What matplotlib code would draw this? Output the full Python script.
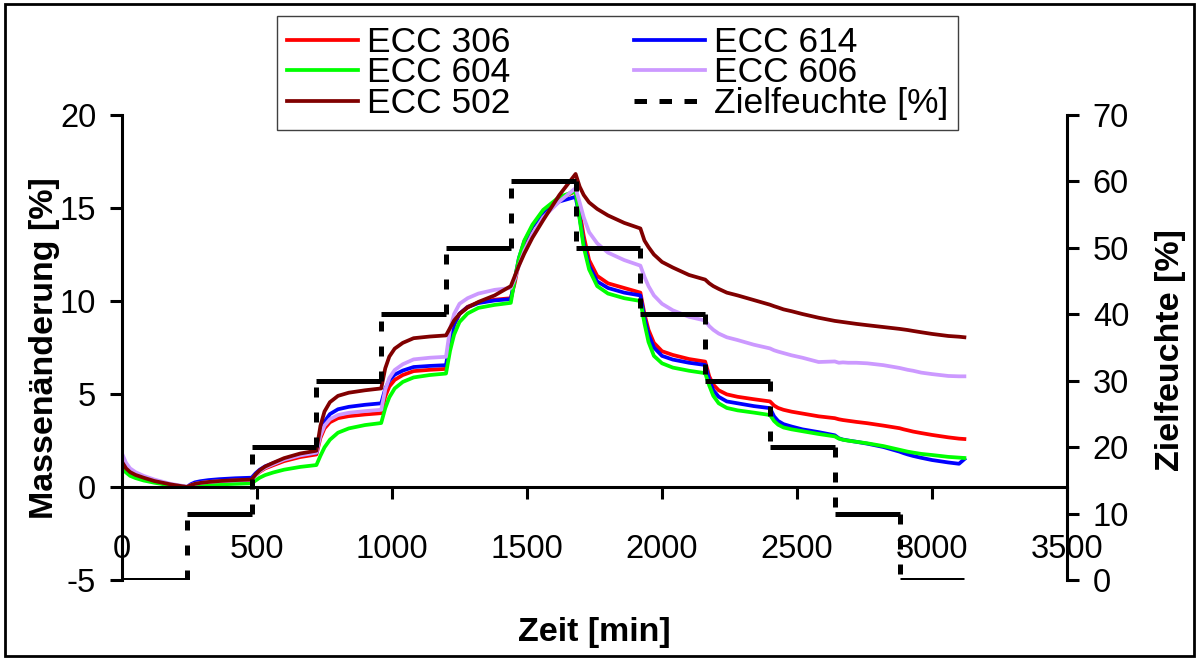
import matplotlib.pyplot as plt
from matplotlib.lines import Line2D
from matplotlib.patches import Rectangle

plt.rcParams['font.family'] = ['Liberation Sans', 'DejaVu Sans']
plt.rcParams['axes.unicode_minus'] = False

# Messzeitpunkte [min], je Feuchtestufe eine Zeile
zeit = [0, 15, 30, 50, 80, 120, 180,
        240, 255, 270, 290, 320, 360, 420,
        480, 495, 510, 530, 560, 600, 660,
        720, 735, 750, 770, 800, 840, 900,
        960, 975, 990, 1010, 1040, 1080, 1140,
        1200, 1215, 1230, 1250, 1280, 1320, 1380,
        1440, 1455, 1470, 1490, 1520, 1560, 1620,
        1680, 1695, 1710, 1730, 1760, 1800, 1860,
        1920, 1935, 1950, 1970, 2000, 2040, 2100,
        2160, 2175, 2190, 2210, 2240, 2280, 2340,
        2400, 2415, 2430, 2450, 2480, 2520, 2580,
        2640, 2655, 2670, 2690, 2720, 2760, 2820,
        2880, 2895, 2910, 2930, 2960, 3000, 3060, 3100, 3120]

# Massenänderung [%] je Probe
ecc306 = [1.3, 0.95, 0.75, 0.6, 0.45, 0.3, 0.12,
          0.0, 0.1, 0.16, 0.21, 0.26, 0.3, 0.35,
          0.38, 0.63, 0.82, 1.0, 1.17, 1.39, 1.61,
          1.75, 2.64, 3.15, 3.48, 3.7, 3.81, 3.9,
          3.97, 4.87, 5.4, 5.76, 6.02, 6.23, 6.3,
          6.35, 7.79, 8.71, 9.31, 9.69, 9.92, 10.07,
          10.15, 11.0, 12.1, 13.1, 14.0, 14.8, 15.5,
          15.9, 14.8, 13.5, 12.2, 11.35, 10.95, 10.7,
          10.45, 9.3, 8.45, 7.75, 7.3, 7.1, 6.88,
          6.74, 5.95, 5.5, 5.2, 4.98, 4.85, 4.72,
          4.6, 4.38, 4.25, 4.15, 4.05, 3.95, 3.8,
          3.7, 3.64, 3.6, 3.56, 3.5, 3.43, 3.3,
          3.16, 3.1, 3.05, 2.98, 2.9, 2.8, 2.67, 2.6, 2.58]
ecc614 = [1.2, 0.9, 0.7, 0.56, 0.42, 0.28, 0.11,
          0.0, 0.15, 0.25, 0.31, 0.37, 0.42, 0.47,
          0.5, 0.74, 0.93, 1.11, 1.28, 1.5, 1.72,
          1.85, 2.91, 3.52, 3.92, 4.18, 4.31, 4.42,
          4.5, 5.28, 5.73, 6.04, 6.26, 6.45, 6.51,
          6.55, 7.9, 8.75, 9.32, 9.67, 9.89, 10.03,
          10.1, 11.2, 12.3, 13.2, 14.0, 14.7, 15.35,
          15.6, 14.5, 13.1, 11.9, 11.05, 10.7, 10.45,
          10.3, 9.1, 8.2, 7.5, 7.05, 6.85, 6.68,
          6.56, 5.75, 5.2, 4.85, 4.6, 4.5, 4.35,
          4.24, 3.8, 3.55, 3.38, 3.25, 3.1, 2.95,
          2.78, 2.62, 2.55, 2.5, 2.43, 2.33, 2.15,
          1.9, 1.82, 1.75, 1.67, 1.57, 1.45, 1.32, 1.25, 1.5]
ecc604 = [1.0, 0.78, 0.6, 0.48, 0.35, 0.23, 0.09,
          0.0, 0.03, 0.06, 0.08, 0.11, 0.14, 0.17,
          0.2, 0.35, 0.5, 0.64, 0.78, 0.93, 1.08,
          1.18, 1.68, 2.13, 2.54, 2.92, 3.15, 3.33,
          3.44, 4.24, 4.82, 5.3, 5.65, 5.89, 6.02,
          6.1, 7.32, 8.19, 8.87, 9.33, 9.63, 9.79,
          9.9, 11.2, 12.3, 13.25, 14.1, 14.9, 15.6,
          15.9, 14.4, 12.9, 11.7, 10.8, 10.4, 10.15,
          10.0, 8.8, 7.8, 7.05, 6.65, 6.42, 6.25,
          6.12, 5.45, 4.9, 4.5, 4.25, 4.12, 4.0,
          3.87, 3.55, 3.35, 3.2, 3.1, 3.0, 2.85,
          2.72, 2.6, 2.54, 2.49, 2.43, 2.35, 2.2,
          2.0, 1.95, 1.9, 1.85, 1.78, 1.72, 1.62, 1.58, 1.56]
ecc606 = [1.8, 1.3, 1.0, 0.8, 0.6, 0.4, 0.17,
          0.02, 0.1, 0.17, 0.22, 0.27, 0.31, 0.35,
          0.38, 0.64, 0.85, 1.04, 1.23, 1.47, 1.7,
          1.85, 2.77, 3.3, 3.64, 3.87, 3.99, 4.08,
          4.15, 5.23, 5.86, 6.29, 6.6, 6.86, 6.95,
          7.0, 8.5, 9.3, 9.85, 10.15, 10.4, 10.6,
          10.7, 11.2, 11.9, 12.7, 13.6, 14.5, 15.35,
          16.07, 15.3, 14.5, 13.7, 13.1, 12.6, 12.2,
          11.9, 11.3, 10.8, 10.3, 9.85, 9.5, 9.15,
          8.95, 8.65, 8.45, 8.25, 8.05, 7.9, 7.65,
          7.45, 7.35, 7.28, 7.2, 7.08, 6.95, 6.72,
          6.75, 6.68, 6.7, 6.68, 6.68, 6.65, 6.55,
          6.4, 6.35, 6.3, 6.25, 6.15, 6.07, 5.97, 5.95, 5.95]
ecc502 = [1.35, 1.0, 0.8, 0.65, 0.5, 0.32, 0.14,
          0.0, 0.1, 0.17, 0.22, 0.27, 0.32, 0.37,
          0.4, 0.68, 0.9, 1.1, 1.3, 1.55, 1.8,
          1.95, 3.29, 4.06, 4.56, 4.9, 5.07, 5.2,
          5.3, 6.38, 7.01, 7.44, 7.75, 8.0, 8.09,
          8.15, 8.55, 8.95, 9.3, 9.65, 9.95, 10.3,
          10.8, 11.35, 11.9, 12.55, 13.4, 14.35, 15.7,
          16.83, 16.15, 15.7, 15.3, 14.95, 14.6, 14.2,
          13.9, 13.25, 12.9, 12.5, 12.1, 11.8, 11.4,
          11.15, 10.95, 10.8, 10.65, 10.45, 10.3, 10.05,
          9.8, 9.72, 9.65, 9.55, 9.45, 9.3, 9.1,
          8.93, 8.9, 8.87, 8.83, 8.77, 8.7, 8.6,
          8.5, 8.47, 8.44, 8.39, 8.32, 8.23, 8.12, 8.08, 8.05]

# Feuchtestufen: Grenzen [min] und Sollwert [%]
stufen_zeit = [0, 240, 480, 720, 960, 1200, 1440, 1680, 1920, 2160, 2400,
               2640, 2880, 3120]
zielfeuchte = [0, 10, 20, 30, 40, 50, 60, 50, 40, 30, 20, 10, 0]

serien = [
    (ecc306, '#ff0000', 'ECC 306'),
    (ecc614, '#0000ff', 'ECC 614'),
    (ecc604, '#00ff00', 'ECC 604'),
    (ecc606, '#cc99ff', 'ECC 606'),
    (ecc502, '#800000', 'ECC 502'),
]

W, H = 1198, 659
fig = plt.figure(figsize=(W / 100, H / 100), dpi=100)
ax = fig.add_axes([122 / W, 1 - 580 / H, 945 / W, 465 / H])
ax2 = ax.twinx()

linien = {}
for werte, farbe, name in serien:
    linien[name], = ax.plot(zeit, werte, color=farbe, lw=2.7,
                            solid_joinstyle='round')

ax.set_xlim(0, 3500)
ax.set_ylim(-5, 20)
ax.set_xticks(range(0, 3501, 500))
ax.set_yticks(range(-5, 21, 5))
ax.spines['bottom'].set_position(('data', 0))
ax.spines['top'].set_visible(False)
ax.spines['right'].set_visible(False)
for s in ['bottom', 'left']:
    ax.spines[s].set_linewidth(2.2)
ax.tick_params(axis='both', direction='out', length=8.6, width=2.2,
               labelsize=23.5)
ax.tick_params(axis='x', pad=25)
ax.tick_params(axis='y', pad=10)

# Zielfeuchte auf der rechten Achse: waagrechte Stufen durchgezogen,
# Übergänge gestrichelt
ax2.set_ylim(0, 70)
ax2.set_yticks(range(0, 71, 10))
ax2.hlines(zielfeuchte, stufen_zeit[:-1], stufen_zeit[1:], color='black',
           lw=3.6)
ax2.vlines(stufen_zeit[1:-1], zielfeuchte[:-1], zielfeuchte[1:], color='black',
           lw=3.6, linestyles=[(0, (2.0, 3.0))])
for s in ['top', 'bottom', 'left']:
    ax2.spines[s].set_visible(False)
ax2.spines['right'].set_linewidth(2.2)
ax2.tick_params(axis='y', direction='out', length=8.6, width=2.2,
                labelsize=23.5, pad=10)

ziel_handle = Line2D([], [], color='black', lw=3.6, linestyle=(0, (2.5, 2.5)))
handles = [linien['ECC 306'], linien['ECC 604'], linien['ECC 502'],
           linien['ECC 614'], linien['ECC 606'], ziel_handle]
labels = ['ECC 306', 'ECC 604', 'ECC 502', 'ECC 614', 'ECC 606',
          'Zielfeuchte [%]']
leg = fig.legend(handles, labels, ncol=2, loc='upper left',
                 bbox_to_anchor=(277 / W, 1 - 16 / H), borderaxespad=0,
                 fontsize=25.5, frameon=True, fancybox=False, framealpha=1,
                 edgecolor='#404040', handlelength=2.0, handletextpad=0.25,
                 columnspacing=3.5, labelspacing=-0.07, borderpad=0.28)
leg.get_frame().set_linewidth(1.0)

fig.text(45 / W, 1 - 348 / H, 'Massenänderung [%]', rotation=90,
         ha='center', va='center', fontsize=24.5, fontweight='bold')
fig.text(594 / W, 1 - 632 / H, 'Zeit [min]', ha='center', va='center',
         fontsize=24.5, fontweight='bold')
fig.text(1170 / W, 1 - 350 / H, 'Zielfeuchte [%]', rotation=90,
         ha='center', va='center', fontsize=24.5, fontweight='bold')

# Rahmen um das Diagramm
fig.patches.append(Rectangle((5 / W, 3 / H), 1189 / W, 652 / H,
                             transform=fig.transFigure, fill=False,
                             edgecolor='black', lw=2.0))

fig.savefig('out.png', dpi=100)
